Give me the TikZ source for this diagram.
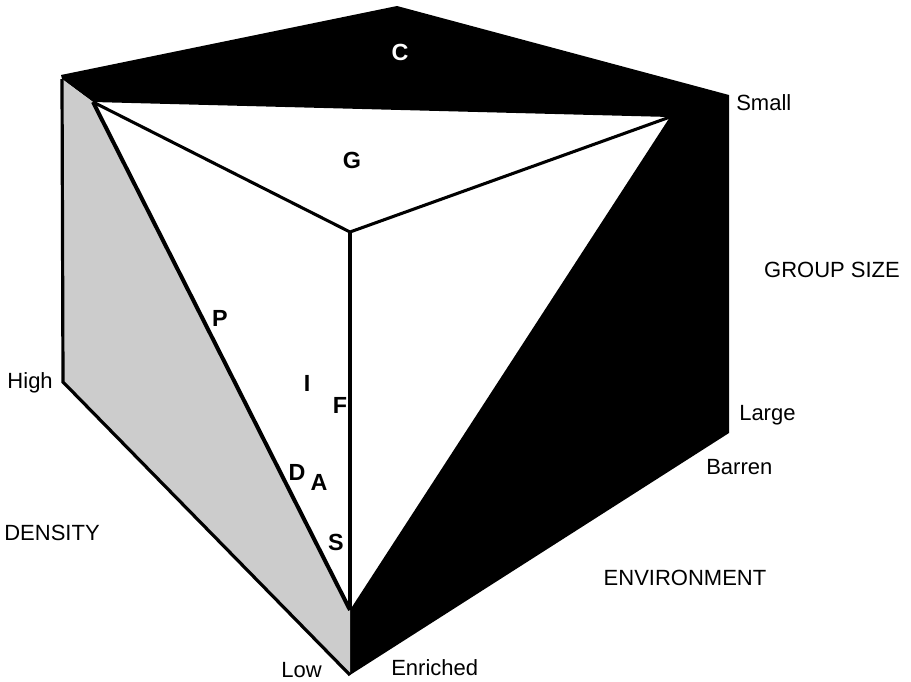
\documentclass[tikz,border=0pt]{standalone}
\usepackage{fontspec}
\setmainfont{Liberation Sans}
\begin{document}
\begin{tikzpicture}[x=0.75pt,y=-0.75pt,
  axlabel/.style={font=\fontsize{16.5}{18}\selectfont, inner sep=0pt},
  facelabel/.style={font=\fontsize{17.5}{20}\selectfont\bfseries, inner sep=0pt},
  edge/.style={line width=2.4pt, line join=miter}]
\useasboundingbox (0,0) rectangle (911,682);
% vertices
\coordinate (T) at (397,6);
\coordinate (TL) at (61,75);
\coordinate (TR) at (729,95);
\coordinate (HL) at (63,382);
\coordinate (LR) at (729,433);
\coordinate (B) at (350,675);
\coordinate (GL) at (62,79);
\coordinate (IL) at (93,102);
\coordinate (IR) at (670,117);
\coordinate (IB) at (350,610);
\coordinate (IC) at (350,232);
% black faces
\fill[black] (TL) -- (T) -- (TR) -- (LR) -- (B) -- (IB) -- (IR) -- (IL) -- (GL) -- cycle;
% gray face
\fill[black!20] (GL) -- (IL) -- (IB) -- (B) -- (HL) -- cycle;
\draw[edge] (GL) -- (HL) -- (B);
% inner lines
\draw[line width=3pt] (IL) -- (IB);
\draw[line width=2.3pt] (IL) -- (IC) -- (IR);
\draw[line width=2.3pt] (IC) -- (IB);
% face labels
\node[facelabel, text=white] (C) at (400,52) {C};
\node[facelabel] (G) at (352,160) {G};
\node[facelabel] (P) at (220,318) {P};
\node[facelabel] (I) at (307,383) {I};
\node[facelabel, anchor=east] (F) at (347.5,405) {F};
\node[facelabel] (D) at (297,472) {D};
\node[facelabel] (A) at (319,482) {A};
\node[facelabel] (S) at (336,542) {S};
% axis labels
\node[axlabel, anchor=west] (small) at (736,103) {Small};
\node[axlabel] (gs) at (832,270) {GROUP SIZE};
\node[axlabel, anchor=west] (large) at (739,415) {Large};
\node[axlabel, anchor=west] (barren) at (706,467) {Barren};
\node[axlabel] (env) at (685,578) {ENVIRONMENT};
\node[axlabel, anchor=west] (enr) at (391,668) {Enriched};
\node[axlabel, anchor=east] (low) at (322,670) {Low};
\node[axlabel, anchor=east] (high) at (53,383) {High};
\node[axlabel] (dens) at (52,533) {DENSITY};
\end{tikzpicture}
\end{document}
